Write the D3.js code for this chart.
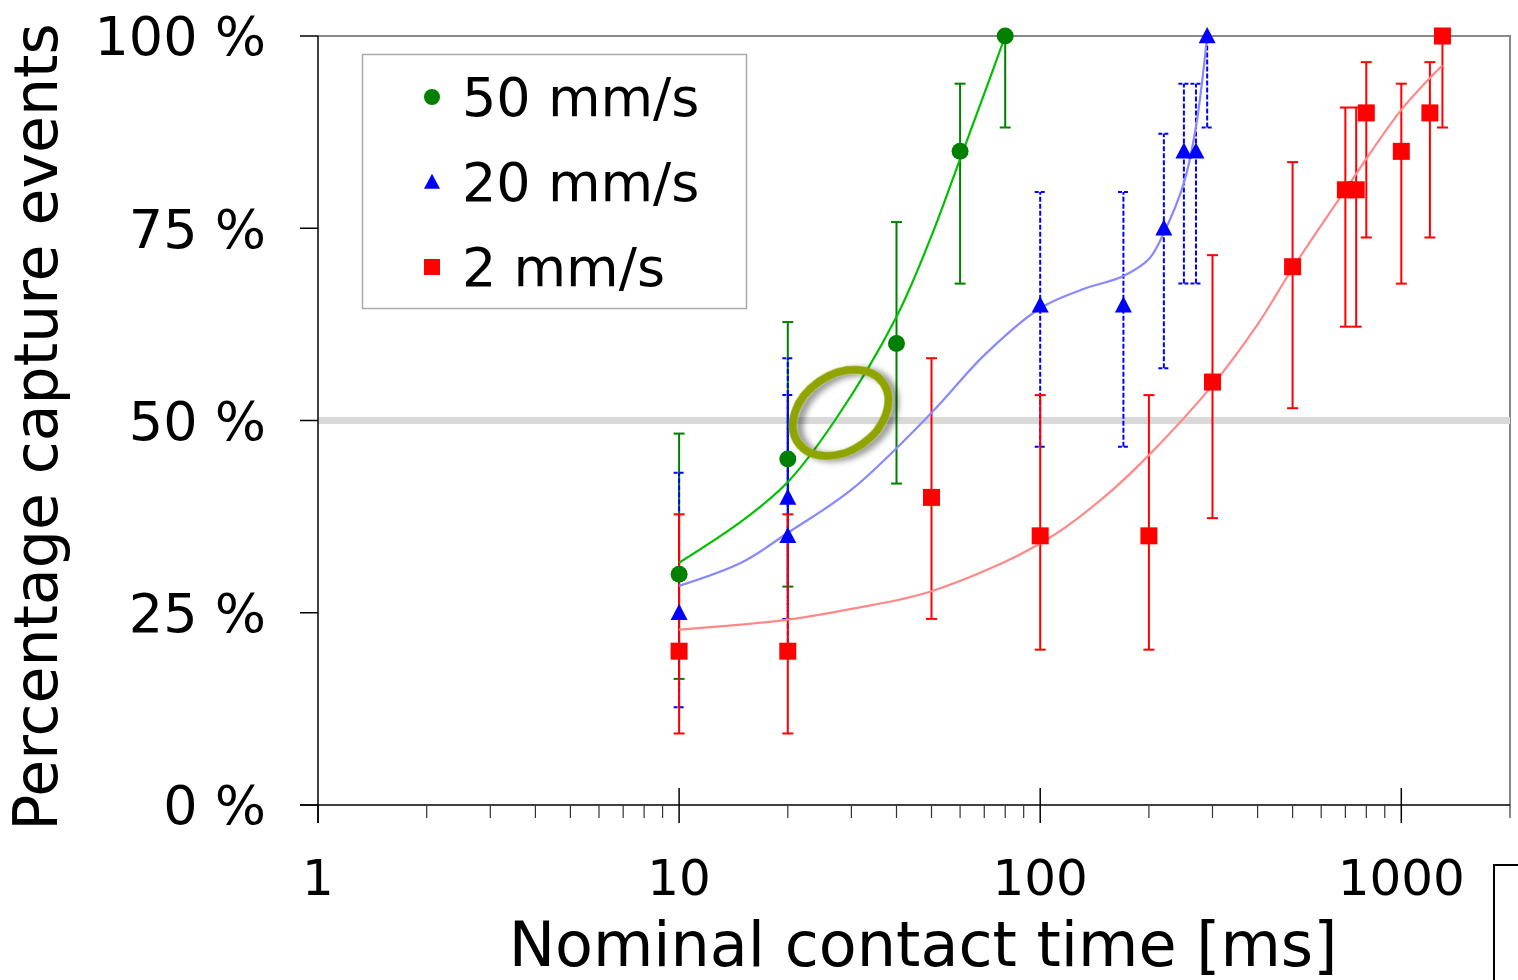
<!DOCTYPE html>
<html>
<head>
<meta charset="utf-8">
<script src="https://cdn.jsdelivr.net/npm/d3@7/dist/d3.min.js"></script>
<style>
  html, body { margin: 0; padding: 0; background: #fff; }
  svg { display: block; }
  text { font-family: "DejaVu Sans", Verdana, sans-serif; fill: #000; }
</style>
</head>
<body>
<svg id="chart" width="1518" height="980"></svg>
<script>
// ---------- data ----------
const xTicks = [1, 10, 100, 1000];
const xTickLabels = ["1", "10", "100", "1000"];
const yTicks = [0, 25, 50, 75, 100];
const yTickLabels = ["0 %", "25 %", "50 %", "75 %", "100 %"];

const seriesNames = ["50 mm/s", "20 mm/s", "2 mm/s"];

// 50 mm/s
const x50  = [10, 20, 40, 60, 80];
const y50  = [30, 45, 60, 85, 100];
const lo50 = [16.4, 28.4, 41.8, 67.8, 88.1];
const hi50 = [48.3, 62.8, 75.8, 93.8, 100];
const fitX50 = [10, 15, 20, 27, 40, 50, 60, 70, 80];
const fitY50 = [31.5, 37, 42, 50, 63.5, 74, 84, 92.5, 100];

// 20 mm/s
const x20  = [10, 20, 20, 100, 170, 220, 250, 270, 290];
const y20  = [25, 40, 35, 65, 65, 75, 85, 85, 100];
const lo20 = [12.7, 24.2, 20.2, 46.6, 46.6, 56.8, 67.8, 67.8, 88.1];
const hi20 = [43.2, 58.1, 53.3, 79.7, 79.7, 87.3, 93.8, 93.8, 100];
const fitX20 = [10, 15, 20, 30, 50, 70, 100, 130, 170, 200, 220, 250, 270, 290];
const fitY20 = [28.5, 31.6, 35.4, 41, 51, 58.5, 64.6, 67, 68.8, 71, 74.4, 80.9, 88.2, 100];

// 2 mm/s
const x2  = [10, 20, 50, 100, 200, 300, 500, 700, 750, 800, 1000, 1200, 1300];
const y2  = [20, 20, 40, 35, 35, 55, 70, 80, 80, 90, 85, 90, 100];
const lo2 = [9.3, 9.3, 24.2, 20.2, 20.2, 37.3, 51.6, 62.2, 62.2, 73.8, 67.8, 73.8, 88.1];
const hi2 = [37.8, 37.8, 58.1, 53.3, 53.3, 71.5, 83.6, 90.7, 90.7, 96.6, 93.8, 96.6, 100];
const fitX2 = [10, 20, 30, 50, 100, 150, 200, 300, 400, 500, 700, 1000, 1300];
const fitY2 = [22.8, 24.1, 25.5, 27.8, 34, 40, 45.5, 54.6, 62.5, 69.8, 80, 90.4, 96.2];

const referenceLevel = 50;
const highlight = { x: 28, y: 51 };

// ---------- layout ----------
const svg = d3.select("#chart");
const L = 318, R = 1510, T = 36, B = 805;

const x = d3.scaleLog().domain([1, 2000]).range([L, R]);
const y = d3.scaleLinear().domain([0, 100]).range([B, T]);

const zip = (a, b, c, d) => a.map((v, i) => ({ x: v, y: b[i], lo: c ? c[i] : null, hi: d ? d[i] : null }));

const series = [
  { name: seriesNames[0], pts: zip(x50, y50, lo50, hi50), fit: zip(fitX50, fitY50),
    color: "#008000", fitColor: "#00c000", shape: "circle", dash: null },
  { name: seriesNames[1], pts: zip(x20, y20, lo20, hi20), fit: zip(fitX20, fitY20),
    color: "#0000ff", fitColor: "#8888ff", shape: "triangle", dash: "5,2" },
  { name: seriesNames[2], pts: zip(x2, y2, lo2, hi2), fit: zip(fitX2, fitY2),
    color: "#ff0000", fitColor: "#ff8888", shape: "square", dash: null }
];

// defs: shadow
const defs = svg.append("defs");
const f = defs.append("filter").attr("id", "shadow").attr("x", "-30%").attr("y", "-30%").attr("width", "160%").attr("height", "160%");
f.append("feGaussianBlur").attr("in", "SourceAlpha").attr("stdDeviation", 3).attr("result", "b");
f.append("feOffset").attr("in", "b").attr("dx", 4).attr("dy", 5).attr("result", "o");
f.append("feComponentTransfer").attr("in", "o").attr("result", "o2")
  .append("feFuncA").attr("type", "linear").attr("slope", 0.45);
const fm = f.append("feMerge");
fm.append("feMergeNode").attr("in", "o2");
fm.append("feMergeNode").attr("in", "SourceGraphic");

// frame top/right (gray)
svg.append("path")
  .attr("d", `M${L},${T}H${R}V${B + 13}`)
  .attr("fill", "none").attr("stroke", "#888").attr("stroke-width", 2);

// reference line at 50 %
svg.append("line")
  .attr("x1", L).attr("x2", R)
  .attr("y1", y(referenceLevel)).attr("y2", y(referenceLevel))
  .attr("stroke", "#d9d9d9").attr("stroke-width", 7);

// x axis
const minorTicks = [];
for (let d = 1; d < 2000; d *= 10) for (let k = 2; k <= 9; k++) if (d * k < 2000) minorTicks.push(d * k);

const gx = svg.append("g");
gx.append("line").attr("x1", L - 18).attr("x2", R).attr("y1", B).attr("y2", B)
  .attr("stroke", "#000").attr("stroke-width", 1.5);
gx.selectAll("line.minor").data(minorTicks).join("line").attr("class", "minor")
  .attr("x1", d => x(d)).attr("x2", d => x(d)).attr("y1", B).attr("y2", B + 13)
  .attr("stroke", "#333").attr("stroke-width", 1.2);
gx.selectAll("line.major").data(xTicks).join("line").attr("class", "major")
  .attr("x1", d => x(d)).attr("x2", d => x(d)).attr("y1", d => d === 1 ? B : B - 17).attr("y2", B + 18)
  .attr("stroke", "#000").attr("stroke-width", 1.5);
gx.selectAll("text").data(xTicks).join("text")
  .attr("x", d => x(d)).attr("y", 895)
  .attr("text-anchor", "middle").attr("font-size", 50)
  .text((d, i) => xTickLabels[i]);

// y axis
const gy = svg.append("g");
gy.append("line").attr("x1", L).attr("x2", L).attr("y1", T).attr("y2", B + 18)
  .attr("stroke", "#000").attr("stroke-width", 1.5);
gy.selectAll("line.tick").data(yTicks).join("line").attr("class", "tick")
  .attr("x1", L - 18).attr("x2", L).attr("y1", d => y(d)).attr("y2", d => y(d))
  .attr("stroke", "#000").attr("stroke-width", 1.5);
gy.selectAll("text").data(yTicks).join("text")
  .attr("x", 266).attr("y", d => y(d)).attr("dy", "0.36em")
  .attr("text-anchor", "end").attr("font-size", 54)
  .text((d, i) => yTickLabels[i]);

// axis titles
svg.append("text").attr("x", 923).attr("y", 966).attr("text-anchor", "middle")
  .attr("font-size", 62).text("Nominal contact time [ms]");
svg.append("text").attr("transform", "translate(57,427) rotate(-90)")
  .attr("text-anchor", "middle").attr("font-size", 60).text("Percentage capture events");

// error bars
const cap = 5.5;
series.forEach(s => {
  const g = svg.append("g");
  s.pts.forEach(p => {
    const cx = x(p.x);
    g.append("line").attr("x1", cx).attr("x2", cx).attr("y1", y(p.lo)).attr("y2", y(p.hi))
      .attr("stroke", s.color).attr("stroke-width", 2).attr("stroke-dasharray", s.dash);
    [p.lo, p.hi].forEach(v => {
      if (v >= 100) return;
      g.append("line").attr("x1", cx - cap).attr("x2", cx + cap).attr("y1", y(v)).attr("y2", y(v))
        .attr("stroke", s.color).attr("stroke-width", 2).attr("stroke-dasharray", s.dash ? "4,2" : null);
    });
  });
});

// fit curves
const lineGen = d3.line().x(d => x(d.x)).y(d => y(d.y)).curve(d3.curveCatmullRom.alpha(0.5));
series.forEach(s => {
  svg.append("path").attr("d", lineGen(s.fit))
    .attr("fill", "none").attr("stroke", s.fitColor).attr("stroke-width", 2.2);
});

// markers
function marker(g, shape, cx, cy, color, size) {
  if (shape === "circle") {
    g.append("circle").attr("cx", cx).attr("cy", cy).attr("r", size / 2).attr("fill", color);
  } else if (shape === "square") {
    g.append("rect").attr("x", cx - size / 2).attr("y", cy - size / 2)
      .attr("width", size).attr("height", size).attr("fill", color);
  } else {
    const h = size * 0.95;
    g.append("path").attr("d", `M${cx},${cy - h * 0.55}L${cx + size / 2},${cy + h * 0.45}L${cx - size / 2},${cy + h * 0.45}Z`)
      .attr("fill", color);
  }
}
series.forEach(s => {
  const g = svg.append("g");
  s.pts.forEach(p => marker(g, s.shape, x(p.x), y(p.y), s.color, 17));
});

// highlight ellipse
svg.append("ellipse")
  .attr("cx", 0).attr("cy", 0).attr("rx", 52).attr("ry", 38)
  .attr("transform", `translate(${x(highlight.x)},${y(highlight.y)}) rotate(-35)`)
  .attr("fill", "none").attr("stroke", "#8fa400").attr("stroke-width", 8)
  .attr("filter", "url(#shadow)");

// legend
const lg = svg.append("g");
lg.append("rect").attr("x", 362.5).attr("y", 54.5).attr("width", 384).attr("height", 254)
  .attr("fill", "#fff").attr("stroke", "#aaa").attr("stroke-width", 1.5);
series.forEach((s, i) => {
  const cy = 97 + i * 85;
  marker(lg, s.shape, 432, cy, s.color, 16);
  lg.append("text").attr("x", 462).attr("y", cy).attr("dy", "0.36em")
    .attr("font-size", 54).text(s.name);
});

// corner bracket
svg.append("path").attr("d", "M1518,865H1494V980")
  .attr("fill", "none").attr("stroke", "#000").attr("stroke-width", 2);
</script>
</body>
</html>
